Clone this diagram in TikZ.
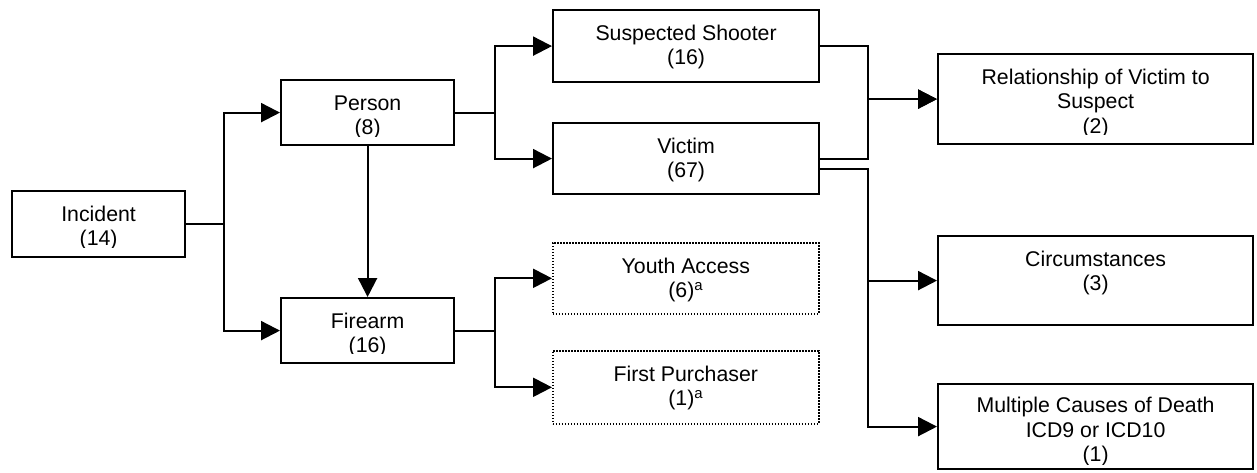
\documentclass[tikz,border=0pt]{standalone}
\usepackage{fontspec}
\setmainfont{Liberation Sans}
\usetikzlibrary{arrows.meta,calc}
\newcommand\lbfont{\fontsize{21.3}{24.5}\selectfont}
\tikzset{
  box/.style={draw, line width=2.2pt, inner sep=0pt, anchor=north west},
  dbox/.style={box, line width=1.6pt, dash pattern=on 1.6pt off 1.4pt},
  lbl/.style={font=\lbfont, align=center, inner sep=0pt, anchor=north},
  conn/.style={line width=2.2pt, -{Triangle[length=19pt,width=19pt]}}
}
\newcommand\boxtext[5]{% box, name, clip inset, top offset, text
  \begin{scope}
    \clip ([yshift=#3pt]#1.south west) rectangle (#1.north east);
    \node[lbl] (#2) at ([yshift=-#4pt]#1.north) {\rule{0pt}{16pt}#5};
  \end{scope}}
\begin{document}
\begin{tikzpicture}[x=1pt,y=-1pt]
\useasboundingbox (0,0) rectangle (1257,472);
% boxes
\node[box, minimum width=173pt, minimum height=66pt] (inc) at (11,190) {};
\node[box, minimum width=173pt, minimum height=65pt] (per) at (280,79) {};
\node[box, minimum width=173pt, minimum height=65pt] (fir) at (280,297) {};
\node[box, minimum width=266pt, minimum height=72pt] (ss) at (552,9) {};
\node[box, minimum width=266pt, minimum height=71pt] (vic) at (552,122) {};
\node[dbox, minimum width=266pt, minimum height=71pt] (ya) at (552,242) {};
\node[dbox, minimum width=266pt, minimum height=73pt] (fp) at (552,350) {};
\node[box, minimum width=315pt, minimum height=90pt] (rel) at (937,53) {};
\node[box, minimum width=315pt, minimum height=89pt] (circ) at (937,235) {};
\node[box, minimum width=315pt, minimum height=85pt] (mcd) at (937,383) {};
% texts
\boxtext{inc}{inct}{10.5}{15}{Incident\\(14)}
\boxtext{per}{pert}{10}{15}{Person\\(8)}
\boxtext{fir}{firt}{10.5}{15}{Firearm\\(16)}
\boxtext{ss}{sst}{10}{15}{Suspected Shooter\\(16)}
\boxtext{vic}{vict}{10}{15}{Victim\\(67)}
\boxtext{ya}{yat}{10}{15}{Youth Access\\(6)\textsuperscript{a}}
\boxtext{fp}{fpt}{10}{15}{First Purchaser\\(1)\textsuperscript{a}}
\boxtext{rel}{relt}{10.5}{15}{Relationship of Victim to\\Suspect\\(2)}
\boxtext{circ}{circt}{10}{15}{Circumstances\\(3)}
\boxtext{mcd}{mcdt}{6}{13.5}{Multiple Causes of Death\\ICD9 or ICD10\\(1)}
% connectors
\draw[conn] (inc.east) -- ++(38,0) |- (per.west);
\draw[conn] (inc.east) -- ++(38,0) |- (fir.west);
\draw[conn] (per.south) -- (fir.north);
\draw[conn] (per.east) -- ++(40,0) |- (ss.west);
\draw[conn] (per.east) -- ++(40,0) |- (vic.west);
\draw[conn] (fir.east) -- ++(40,0) |- (ya.west);
\draw[conn] (fir.east) -- ++(40,0) |- (fp.west);
\draw[conn] (ss.east) -- ++(48,0) |- (rel.west);
\draw[conn] (vic.east) -- ++(48,0) |- (rel.west);
\coordinate (vlow) at ([yshift=-10pt]vic.east);
\draw[conn] (vlow) -- ++(48,0) |- (circ.west);
\draw[conn] (vlow) -- ++(48,0) |- (mcd.west);
\end{tikzpicture}
\end{document}
